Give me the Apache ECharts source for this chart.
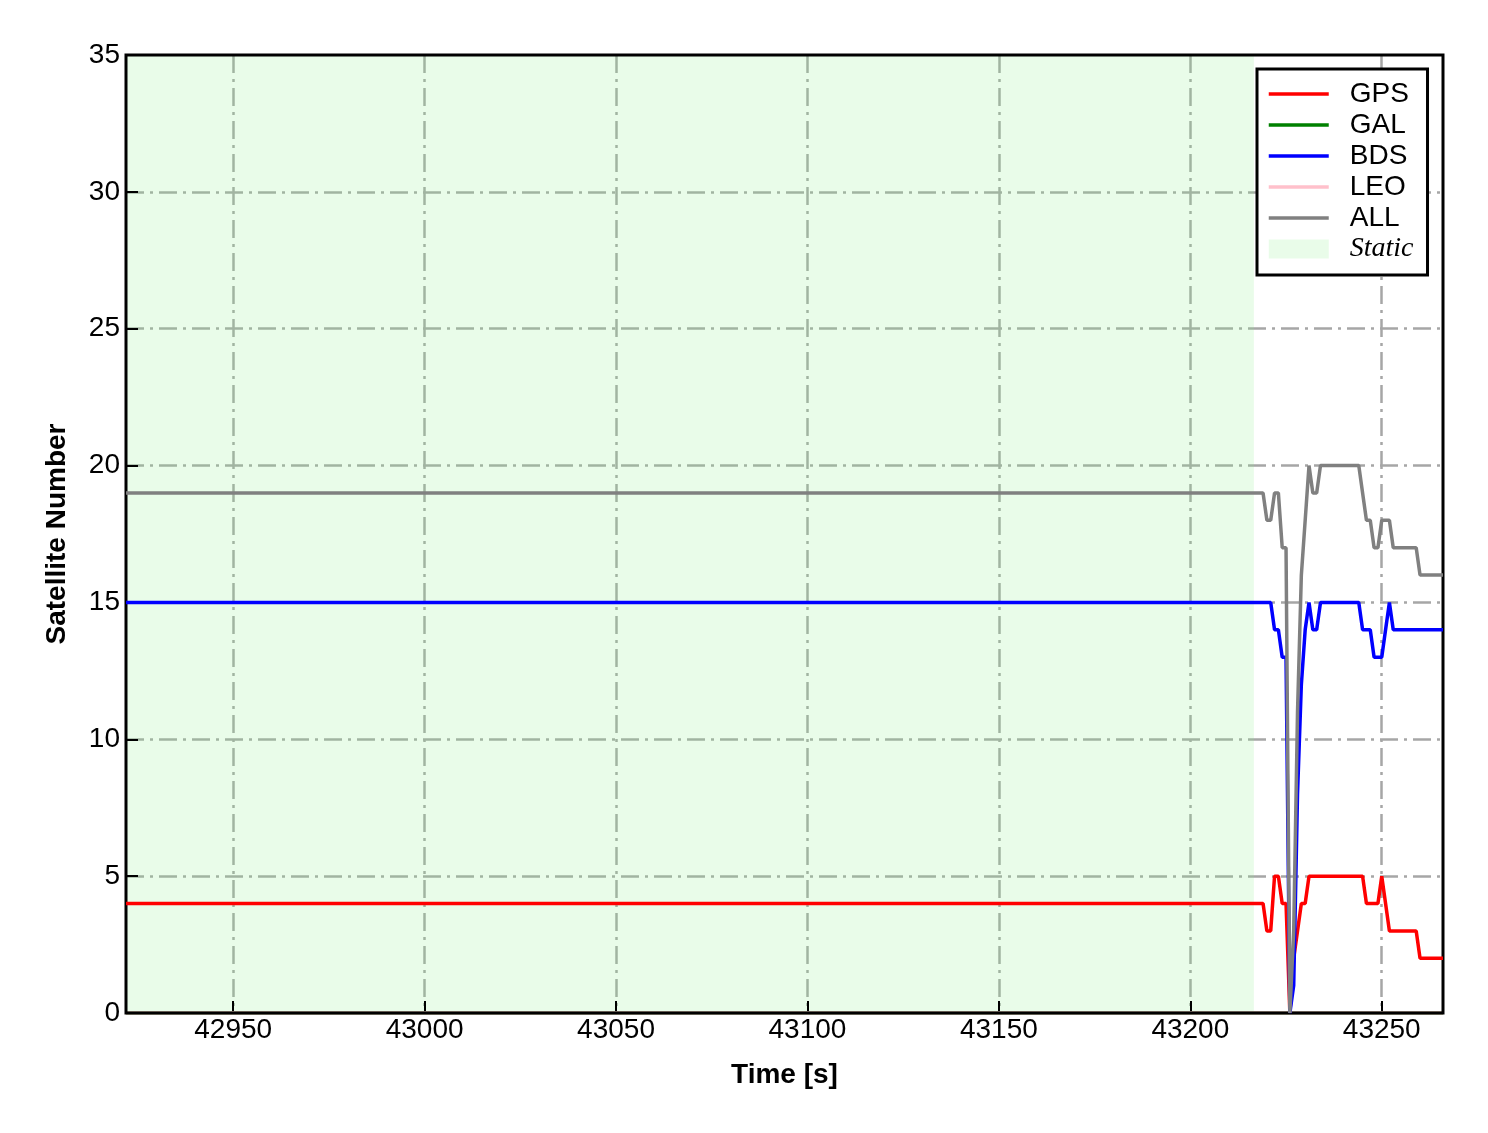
<!DOCTYPE html>
<html>
<head>
<meta charset="utf-8">
<script src="https://cdn.jsdelivr.net/npm/echarts@6/dist/echarts.min.js"></script>
<style>
html,body{margin:0;padding:0;background:#fff;}
#chart{width:1488px;height:1133px;}
</style>
</head>
<body>
<div id="chart"></div>
<script>
// Time stamps [s]; the first point starts the constant static period
const times = [42922,
  43219, 43220, 43221, 43222, 43223, 43224, 43225, 43226, 43227, 43228,
  43229, 43230, 43231, 43232, 43233, 43234, 43235, 43236, 43237, 43238,
  43239, 43240, 43241, 43242, 43243, 43244, 43245, 43246, 43247, 43248,
  43249, 43250, 43251, 43252, 43253, 43254, 43255, 43256, 43257, 43258,
  43259, 43260, 43261, 43262, 43263, 43264, 43265, 43266];
const gpsVals = [4,
  4, 3, 3, 5, 5, 4, 4, 0, 2, 3,
  4, 4, 5, 5, 5, 5, 5, 5, 5, 5,
  5, 5, 5, 5, 5, 5, 5, 4, 4, 4,
  4, 5, 4, 3, 3, 3, 3, 3, 3, 3,
  3, 2, 2, 2, 2, 2, 2, 2];
const bdsVals = [15,
  15, 15, 15, 14, 14, 13, 13, 0, 1, 8,
  12, 14, 15, 14, 14, 15, 15, 15, 15, 15,
  15, 15, 15, 15, 15, 15, 14, 14, 14, 13,
  13, 13, 14, 15, 14, 14, 14, 14, 14, 14,
  14, 14, 14, 14, 14, 14, 14, 14];
const allVals = [19,
  19, 18, 18, 19, 19, 17, 17, 0, 3, 11,
  16, 18, 20, 19, 19, 20, 20, 20, 20, 20,
  20, 20, 20, 20, 20, 20, 19, 18, 18, 17,
  17, 18, 18, 18, 17, 17, 17, 17, 17, 17,
  17, 16, 16, 16, 16, 16, 16, 16];
const zeroTimes = [42922, 43266];
const galVals = [0, 0];
const leoVals = [0, 0];
const staticRange = [42922, 43216.6];
const xTicks = [42950, 43000, 43050, 43100, 43150, 43200, 43250];

function pairs(xs, ys) { return xs.map((x, i) => [x, ys[i]]); }

const FONT = "'Liberation Sans', Arial, sans-serif";
const gridLine = { color: '#a6a6a6', width: 2.5, type: [18, 6, 3, 6] };

const chart = echarts.init(document.getElementById('chart'), null, { renderer: 'canvas' });

function lineSeries(name, color, xs, ys, z) {
  return {
    name: name, type: 'line', data: pairs(xs, ys),
    symbol: 'none', showSymbol: false, animation: false,
    z: z, color: color,
    lineStyle: { color: color, width: 3.5 },
    emphasis: { disabled: true }
  };
}

const option = {
  animation: false,
  backgroundColor: '#ffffff',
  grid: { left: 126, top: 55, right: 45, bottom: 120, show: true, z: 2,
          borderColor: '#000', borderWidth: 3, backgroundColor: 'transparent', containLabel: false },
  xAxis: {
    type: 'value', min: 42922, max: 43266, z: 1,
    name: 'Time [s]', nameLocation: 'middle', nameGap: 48,
    nameTextStyle: { fontFamily: FONT, fontSize: 28, fontWeight: 'bold', color: '#000' },
    axisLine: { show: false },
    axisTick: { show: true, inside: true, length: 12, lineStyle: { color: '#000', width: 2 },
                customValues: xTicks },
    axisLabel: { fontFamily: FONT, fontSize: 28, color: '#000', margin: 3, customValues: xTicks,
                 formatter: function (v) { return String(v); } },
    splitLine: { show: true, lineStyle: gridLine }
  },
  yAxis: {
    type: 'value', min: 0, max: 35, interval: 5, z: 1,
    name: 'Satellite Number', nameLocation: 'middle', nameGap: 55,
    nameTextStyle: { fontFamily: FONT, fontSize: 28, fontWeight: 'bold', color: '#000' },
    axisLine: { show: false },
    axisTick: { show: true, inside: true, length: 12, lineStyle: { color: '#000', width: 2 } },
    axisLabel: { fontFamily: FONT, fontSize: 28, color: '#000', margin: 6 },
    splitLine: { show: true, lineStyle: gridLine, showMinLine: false, showMaxLine: false }
  },
  legend: {
    show: true, orient: 'vertical', left: 1257, top: 69, z: 10,
    backgroundColor: '#fff', borderColor: '#000', borderWidth: 3,
    padding: [11, 14, 12, 10], itemWidth: 60, itemHeight: 19, itemGap: 3,
    selectedMode: false,
    itemStyle: { opacity: 0 },
    lineStyle: { width: 3.5 },
    textStyle: { fontFamily: FONT, fontSize: 28, color: '#000', lineHeight: 28, padding: [0, 0, 0, 16] },
    data: [
      { name: 'GPS' }, { name: 'GAL' }, { name: 'BDS' }, { name: 'LEO' }, { name: 'ALL' },
      { name: 'Static', icon: 'rect', itemStyle: { color: 'rgba(144,238,144,0.2)', opacity: 1 },
        textStyle: { fontFamily: "'Liberation Serif', 'Times New Roman', serif", fontStyle: 'italic',
                     fontSize: 28, color: '#000', lineHeight: 28, padding: [0, 0, 0, 16] } }
    ]
  },
  series: [
    {
      name: 'Static', type: 'line', data: [], z: 0, symbol: 'none',
      color: 'rgba(144,238,144,0.2)',
      lineStyle: { width: 0 },
      markArea: {
        silent: true,
        itemStyle: { color: 'rgba(144,238,144,0.2)' },
        data: [[{ xAxis: staticRange[0] }, { xAxis: staticRange[1] }]]
      }
    },
    lineSeries('GAL', '#008000', zeroTimes, galVals, 1),
    lineSeries('LEO', '#ffc0cb', zeroTimes, leoVals, 1),
    lineSeries('GPS', '#ff0000', times, gpsVals, 3),
    lineSeries('BDS', '#0000ff', times, bdsVals, 3),
    lineSeries('ALL', '#808080', times, allVals, 3)
  ]
};
chart.setOption(option);
</script>
</body>
</html>
